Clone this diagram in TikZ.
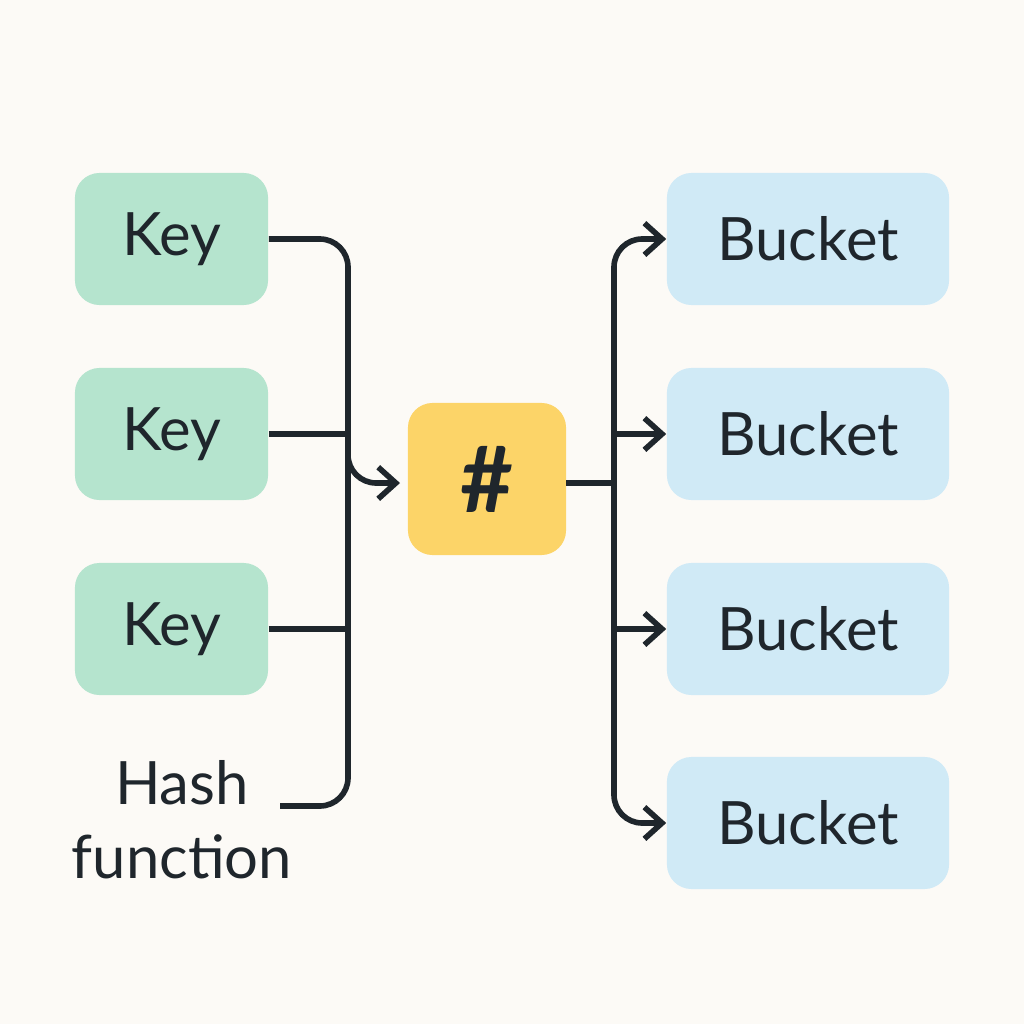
\documentclass[tikz,border=0pt]{standalone}
\usepackage{fontspec}
\setmainfont{Lato}
\usetikzlibrary{arrows.meta}
\definecolor{keyfill}{HTML}{B5E4CE}
\definecolor{bucketfill}{HTML}{D0EAF6}
\definecolor{hashfill}{HTML}{FCD468}
\definecolor{bg}{HTML}{FCFAF6}
\definecolor{ink}{HTML}{1F262C}
\begin{document}
\begin{tikzpicture}[x=0.01cm,y=-0.01cm,
    box/.style={rounded corners=7pt, inner sep=0, font=\fontsize{17}{20}\selectfont\color{ink}},
    key/.style={box, fill=keyfill, minimum width=1.93cm, minimum height=1.32cm},
    bucket/.style={box, fill=bucketfill, minimum width=2.82cm, minimum height=1.32cm},
    link/.style={draw=ink, line width=1.6pt, rounded corners=8pt},
    arr/.style={link, -{Straight Barb[length=5pt,width=9pt]}}]
  \fill[bg] (0,0) rectangle (1024,1024);

  \node[key] (k1) at (171.5,239) {Key};
  \node[key] (k2) at (171.5,434) {Key};
  \node[key] (k3) at (171.5,629) {Key};
  \node[box, fill=hashfill, minimum width=1.58cm, minimum height=1.52cm,
        font=\fontsize{26}{26}\selectfont\bfseries\color{ink}] (h) at (487,479) {\#};
  \node[align=center, font=\fontsize{17}{21}\selectfont\color{ink}] (hf) at (182,820) {Hash\\function};

  \node[bucket] (b1) at (808,239) {Bucket};
  \node[bucket] (b2) at (808,434) {Bucket};
  \node[bucket] (b3) at (808,629) {Bucket};
  \node[bucket] (b4) at (808,823) {Bucket};

  % keys into the trunk
  \draw[link] (k1.east) -- (348,239) -- (348,806) -- (280,806);
  \draw[link] (k2.east) -- (348,434);
  \draw[link] (k3.east) -- (348,629);
  \draw[arr] (348,460) -- (348,483) -- (400,483);

  % hash out to buckets
  \coordinate (hout) at (566,483);
  \draw[link] (hout) -- (614,483);
  \draw[arr] (614,483) -- (614,239) -- (b1.west);
  \draw[arr] (614,434) -- (b2.west);
  \draw[arr] (614,629) -- (b3.west);
  \draw[arr] (614,483) -- (614,823) -- (b4.west);
\end{tikzpicture}
\end{document}
